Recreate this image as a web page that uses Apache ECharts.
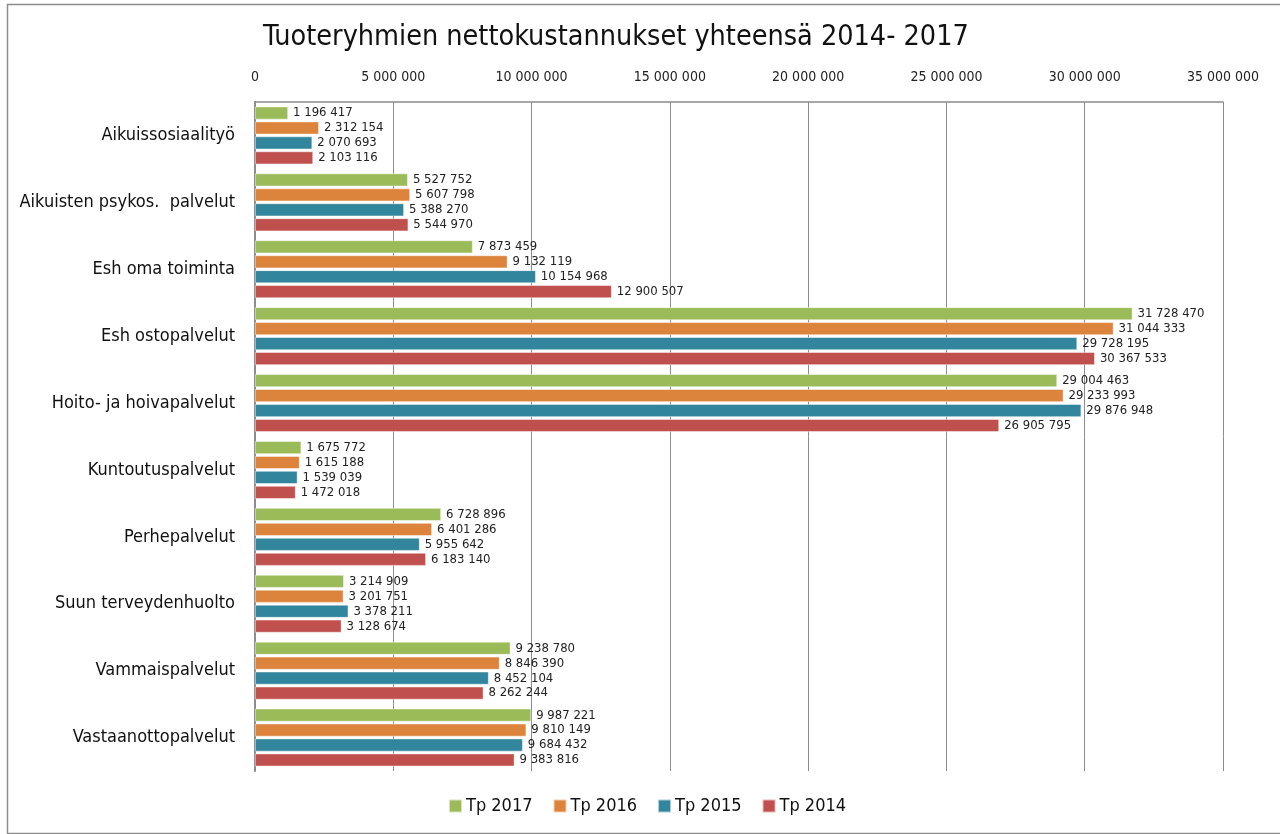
<!DOCTYPE html>
<html>
<head>
<meta charset="utf-8">
<script src="https://cdn.jsdelivr.net/npm/echarts@6/dist/echarts.min.js"></script>
<style>
html,body{margin:0;padding:0;background:#fff;}
#c{width:1280px;height:834px;}
</style>
</head>
<body>
<div id="c"></div>
<script>
const categories = ["Aikuissosiaalityö","Aikuisten psykos.  palvelut","Esh oma toiminta","Esh ostopalvelut","Hoito- ja hoivapalvelut","Kuntoutuspalvelut","Perhepalvelut","Suun terveydenhuolto","Vammaispalvelut","Vastaanottopalvelut"];
const seriesNames = ["Tp 2017","Tp 2016","Tp 2015","Tp 2014"];
const tp2017 = [1196417,5527752,7873459,31728470,29004463,1675772,6728896,3214909,9238780,9987221];
const tp2016 = [2312154,5607798,9132119,31044333,29233993,1615188,6401286,3201751,8846390,9810149];
const tp2015 = [2070693,5388270,10154968,29728195,29876948,1539039,5955642,3378211,8452104,9684432];
const tp2014 = [2103116,5544970,12900507,30367533,26905795,1472018,6183140,3128674,8262244,9383816];
const colors = ["#9BBB59","#DD843C","#31859C","#C0504D"];
const FONT = "'Liberation Sans Narrow','DejaVu Sans Condensed',sans-serif";

function fmt(v){ return String(v).replace(/\B(?=(\d{3})+(?!\d))/g, ' '); }

const chart = echarts.init(document.getElementById('c'));
const all = [tp2017,tp2016,tp2015,tp2014];
chart.setOption({
  animation:false,
  color: colors,
  graphic:[{type:'rect',shape:{x:7.5,y:4.5,width:1290,height:829},style:{fill:'none',stroke:'#8c8c8c',lineWidth:1.5},silent:true}],
  title:{text:"Tuoteryhmien nettokustannukset yhteensä 2014- 2017",left:258,top:18,
    textStyle:{fontFamily:FONT,fontSize:28.5,fontWeight:'normal',color:'#111'}},
  legend:{bottom:14,left:443,itemWidth:13,itemHeight:13,itemGap:20,icon:'rect',
    textStyle:{fontFamily:FONT,fontSize:18,color:'#111',padding:[0,0,0,-1]},data:seriesNames},
  grid:{left:255,right:57,top:102,bottom:63},
  xAxis:{type:'value',position:'top',min:0,max:35000000,interval:5000000,
    axisLine:{show:true,lineStyle:{color:'#8c8c8c',width:1.5}},
    axisTick:{show:false},
    axisLabel:{fontFamily:FONT,fontSize:14,color:'#222',margin:18,formatter:fmt},
    splitLine:{show:true,lineStyle:{color:'#8c8c8c',width:1}}},
  yAxis:{type:'category',inverse:true,data:categories,
    axisLine:{show:true,lineStyle:{color:'#8c8c8c',width:2}},
    axisTick:{show:false},
    axisLabel:{fontFamily:FONT,fontSize:18,color:'#111',margin:20}},
  series: all.map((d,i)=>({name:seriesNames[i],type:'bar',data:d,barWidth:13,barGap:'15%',
    itemStyle:{color:colors[i],borderColor:'rgba(255,255,255,0.6)',borderWidth:0.8},
    label:{show:true,position:'right',distance:5,fontFamily:FONT,fontSize:13,color:'#222',
      formatter:p=>fmt(p.value)}}))
});
</script>
</body>
</html>
